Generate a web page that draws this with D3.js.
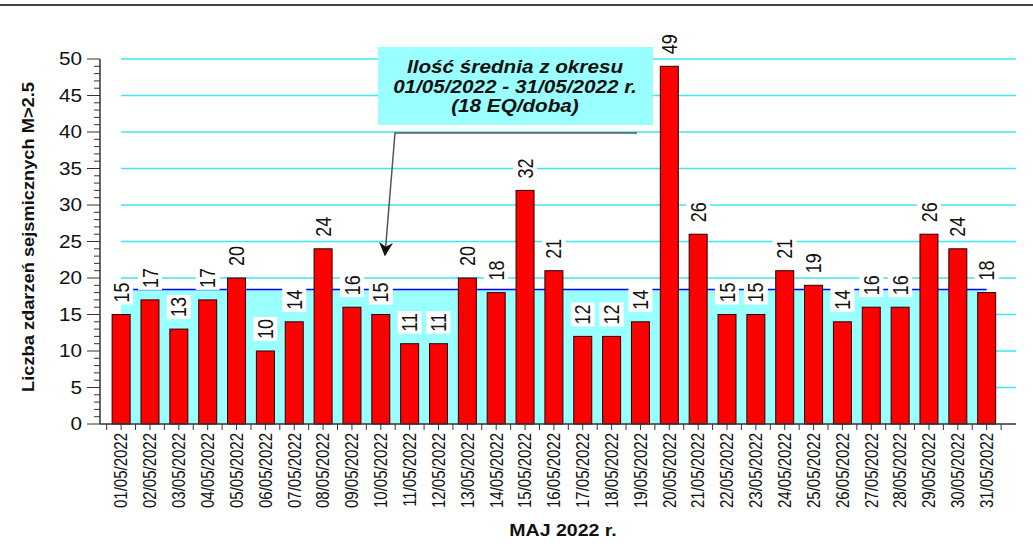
<!DOCTYPE html>
<html>
<head>
<meta charset="utf-8">
<script src="https://cdn.jsdelivr.net/npm/d3@7"></script>
<style>
  html, body { margin: 0; padding: 0; background: #fff; }
  svg { display: block; font-family: "Liberation Sans", Arial, sans-serif; }
</style>
</head>
<body>
<svg id="chart" width="1033" height="552"></svg>
<script>
// daily counts of seismic events M>2.5, May 2022
const days = [
  '01/05/2022','02/05/2022','03/05/2022','04/05/2022','05/05/2022','06/05/2022','07/05/2022',
  '08/05/2022','09/05/2022','10/05/2022','11/05/2022','12/05/2022','13/05/2022','14/05/2022',
  '15/05/2022','16/05/2022','17/05/2022','18/05/2022','19/05/2022','20/05/2022','21/05/2022',
  '22/05/2022','23/05/2022','24/05/2022','25/05/2022','26/05/2022','27/05/2022','28/05/2022',
  '29/05/2022','30/05/2022','31/05/2022'
];
const counts = [15, 17, 13, 17, 20, 10, 14, 24, 16, 15, 11, 11, 20, 18, 32, 21, 12, 12, 14, 49,
                26, 15, 15, 21, 19, 14, 16, 16, 26, 24, 18];
const yTicks = [0, 5, 10, 15, 20, 25, 30, 35, 40, 45, 50];
const noteLines = ['Ilość średnia z okresu', '01/05/2022 - 31/05/2022 r.', '(18 EQ/doba)'];
const yTitle = 'Liczba zdarzeń sejsmicznych M>2.5';
const xTitle = 'MAJ 2022 r.';

const svg = d3.select('#chart');
const W = 1033;

const x = d3.scaleBand().domain(days).range([106.7, 1001.1]).padding(0);
const y = d3.scaleLinear().domain([0, 50]).range([424, 59]);
const cx = (d) => x(d) + x.bandwidth() / 2;
const barW = 18;
const mean = d3.mean(counts);

// top frame line
svg.append('line').attr('x1', 0).attr('x2', W).attr('y1', 5).attr('y2', 5)
  .attr('stroke', '#444').attr('stroke-width', 2);

// gridlines
const gx0 = cx(days[0]), gx1 = 1016;
svg.append('g').selectAll('line').data(yTicks.filter((t) => t > 0)).enter().append('line')
  .attr('x1', gx0).attr('x2', gx1)
  .attr('y1', (d) => y(d)).attr('y2', (d) => y(d))
  .attr('stroke', '#3ee6ee').attr('stroke-width', 1.5);

// mean area + line
const mx0 = cx(days[0]), mx1 = cx(days[days.length - 1]);
svg.append('rect').attr('x', mx0).attr('width', mx1 - mx0)
  .attr('y', y(mean)).attr('height', y(0) - y(mean)).attr('fill', '#99ffff');
svg.append('line').attr('x1', mx0).attr('x2', mx1).attr('y1', y(mean)).attr('y2', y(mean))
  .attr('stroke', '#0000ff').attr('stroke-width', 1.5);

// bars
svg.append('g').selectAll('rect').data(counts).enter().append('rect')
  .attr('x', (d, i) => cx(days[i]) - barW / 2)
  .attr('width', barW)
  .attr('y', (d) => y(d))
  .attr('height', (d) => y(0) - y(d))
  .attr('fill', '#ff0000').attr('stroke', '#2a0000').attr('stroke-width', 1);

// value labels with white boxes
const vl = svg.append('g');
counts.forEach((v, i) => {
  const px = cx(days[i]), py = y(v) - 12;
  const g = vl.append('g').attr('transform', `translate(${px},${py}) scale(1.2,1)`);
  const box = g.append('rect').attr('fill', '#fff');
  const t = g.append('text').attr('transform', 'rotate(-90)')
    .attr('dy', '0.35em').attr('font-size', 18).attr('fill', '#111').text(v);
  const L = t.node().getComputedTextLength();
  box.attr('x', -10).attr('width', 20).attr('y', -L - 2).attr('height', L + 4);
});

// y axis
const ya = svg.append('g');
ya.append('line').attr('x1', 100).attr('x2', 100).attr('y1', y(50)).attr('y2', y(0))
  .attr('stroke', '#333').attr('stroke-width', 1.5);
ya.selectAll('line.minor').data(d3.range(0, 51)).enter().append('line')
  .attr('class', 'minor')
  .attr('x1', (d) => (d % 5 === 0 ? 87 : 94)).attr('x2', 100)
  .attr('y1', (d) => y(d)).attr('y2', (d) => y(d))
  .attr('stroke', '#333').attr('stroke-width', 1);
ya.selectAll('text').data(yTicks).enter().append('text')
  .attr('transform', (d) => `translate(82,${y(d)}) scale(1.15,1)`)
  .attr('text-anchor', 'end').attr('dy', '0.36em')
  .attr('font-size', 18).attr('fill', '#111').text((d) => d);

// x axis
const xa = svg.append('g');
xa.append('line').attr('x1', 100).attr('x2', 1016).attr('y1', y(0)).attr('y2', y(0))
  .attr('stroke', '#333').attr('stroke-width', 1.5);
const edges = days.map((d) => x(d)).concat([x(days[days.length - 1]) + x.bandwidth()]);
xa.selectAll('line.edge').data(edges).enter().append('line')
  .attr('class', 'edge')
  .attr('x1', (d) => d).attr('x2', (d) => d).attr('y1', y(0)).attr('y2', y(0) + 6)
  .attr('stroke', '#333');
xa.selectAll('line.mid').data(days).enter().append('line')
  .attr('class', 'mid')
  .attr('x1', (d) => cx(d)).attr('x2', (d) => cx(d)).attr('y1', y(0)).attr('y2', y(0) + 6)
  .attr('stroke', '#333');
xa.selectAll('text').data(days).enter().append('text')
  .attr('transform', (d) => `translate(${cx(d)},433) scale(1.2,1) rotate(-90)`)
  .attr('text-anchor', 'end').attr('dy', '0.35em')
  .attr('font-size', 15).attr('fill', '#111').text((d) => d);

// axis titles
svg.append('text')
  .attr('transform', 'translate(34,237) rotate(-90)')
  .attr('text-anchor', 'middle').attr('font-size', 17).attr('font-weight', 'bold')
  .attr('textLength', 310).attr('lengthAdjust', 'spacingAndGlyphs')
  .attr('fill', '#111').text(yTitle);
svg.append('text')
  .attr('transform', 'translate(563,536) scale(1.15,1)')
  .attr('text-anchor', 'middle').attr('font-size', 17).attr('font-weight', 'bold')
  .attr('fill', '#111').text(xTitle);

// annotation arrow
svg.append('defs').append('marker')
  .attr('id', 'ah').attr('viewBox', '0 0 10 10').attr('refX', 9).attr('refY', 5)
  .attr('markerWidth', 14).attr('markerHeight', 14).attr('markerUnits', 'userSpaceOnUse')
  .attr('orient', 'auto')
  .append('path').attr('d', 'M0,0 L10,5 L0,10 L3,5 Z').attr('fill', '#111');
svg.append('path')
  .attr('d', 'M637,133 L395,133 L385,255')
  .attr('fill', 'none').attr('stroke', '#555').attr('stroke-width', 1.5)
  .attr('marker-end', 'url(#ah)');

// annotation box
svg.append('rect').attr('x', 378).attr('y', 47).attr('width', 275).attr('height', 78)
  .attr('fill', '#99ffff');
noteLines.forEach((s, i) => {
  svg.append('text')
    .attr('transform', `translate(515,${73 + i * 19.5}) scale(1.15,1)`)
    .attr('text-anchor', 'middle').attr('font-size', 18)
    .attr('font-weight', 'bold').attr('font-style', 'italic')
    .attr('fill', '#111').text(s);
});
</script>
</body>
</html>
